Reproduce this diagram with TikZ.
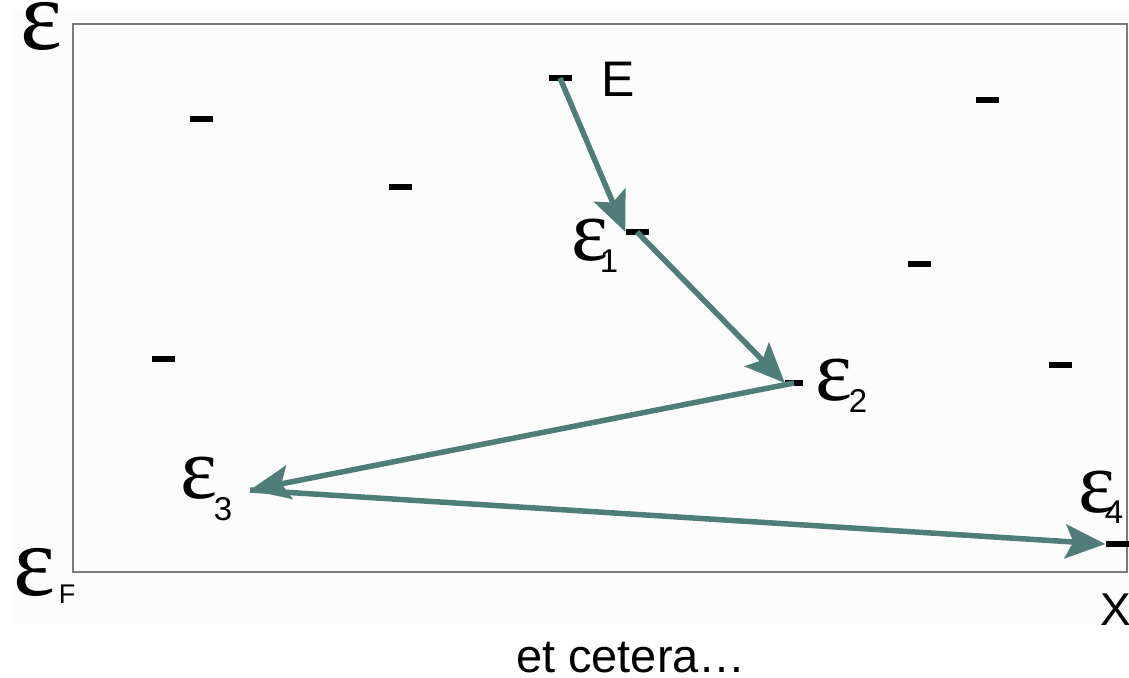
\documentclass[tikz,border=0pt]{standalone}
\usepackage{fontspec}
\setmainfont{Liberation Sans}
\newfontfamily\grf{Liberation Serif}
\usetikzlibrary{arrows.meta}
\definecolor{arrowteal}{HTML}{4F7E78}
\definecolor{boxgray}{HTML}{7A7A7A}
\definecolor{panel}{HTML}{FCFCFC}
\newcommand{\bigeps}{{\grf\fontsize{100}{100}\selectfont ε}}
\newcommand{\mideps}{{\grf\fontsize{88}{88}\selectfont ε}}
\newcommand{\subtxt}[1]{{\fontsize{33}{33}\selectfont #1}}
\begin{document}
\begin{tikzpicture}[x=1pt,y=-1pt,
  lvl/.style={draw=none,fill=black,rectangle,inner sep=0pt,minimum width=23pt,minimum height=6pt},
  arr/.style={draw=arrowteal,line width=5.5pt,-{Stealth[length=40pt,width=34pt,inset=8pt]}},
  lab/.style={anchor=base west,inner sep=0pt,outer sep=0pt}]
\useasboundingbox (0,0) rectangle (1129,677);
\fill[panel] (12,10) rectangle (1129,623);
\draw[boxgray,line width=2pt] (73,24) rectangle (1127,572);
% energy levels
\node[lvl] (a) at (201,119) {};
\node[lvl] (b) at (400,187) {};
\node[lvl] (dE) at (560,78) {};
\node[lvl] (d1) at (637,232) {};
\node[lvl] (c) at (919,264) {};
\node[lvl] (d) at (987,100) {};
\node[lvl] (e) at (163,359) {};
\node[lvl] (f) at (1060,365) {};
\node[lvl,minimum width=18pt] (d2) at (794,383) {};
\node[lvl] (d4) at (1117,544) {};
\coordinate (e3) at (250,490);
% labels
\node[lab] (lE) at (601,96) {\fontsize{50}{50}\selectfont E};
\node[lab] (l1) at (571,260) {\mideps\kern-8pt\raisebox{-12pt}{\subtxt{1}}};
\node[lab] (l2) at (815,400) {\mideps\kern-3pt\raisebox{-12pt}{\subtxt{2}}};
\node[lab] (l3) at (180,498) {\mideps\kern-3pt\raisebox{-22pt}{\subtxt{3}}};
\node[lab] (l4) at (1078,512) {\mideps\kern-10pt\raisebox{-11pt}{\subtxt{4}}};
\node[lab] (ltop) at (20,50) {\bigeps};
\node[lab] (lF) at (13,595) {\bigeps\kern4pt\raisebox{-8pt}{\fontsize{27}{27}\selectfont F}};
\node[lab] (lx) at (1100,625) {\fontsize{46}{46}\selectfont X};
\node[anchor=base,inner sep=0pt] (etc) at (631,672) {\fontsize{47}{47}\selectfont et cetera…};
% transitions
\draw[arr] (dE.center) -- (d1.west);
\draw[arr] (d1.center) -- (d2.west);
\draw[arr] (d2.center) -- (e3);
\draw[arr] (e3) -- (d4.west);
\end{tikzpicture}
\end{document}
